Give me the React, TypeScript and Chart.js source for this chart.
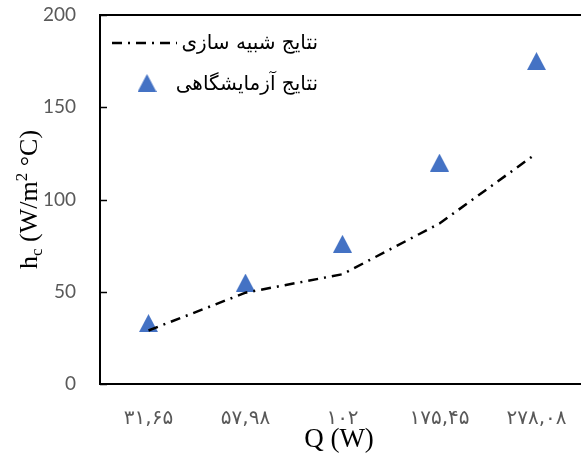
import { useEffect, useRef } from 'react';
import { Chart, registerables } from 'chart.js';

Chart.register(...registerables);

// Heater power (W), written with Persian digits
const powerLabels = ['۳۱,۶۵', '۵۷,۹۸', '۱۰۲', '۱۷۵,۴۵', '۲۷۸,۰۸'];
// Convective heat transfer coefficient h_c (W/m² °C)
const simulatedValues = [29, 49.5, 59.5, 87, 125];
const measuredValues = [33, 55, 76, 120, 175];
const yMin = 0;
const yMax = 200;
const yStep = 50;
const simulatedName = 'نتایج شبیه سازی';
const measuredName = 'نتایج آزمایشگاهی';

const MARKER_BLUE = '#4472C4';
const SERIF = '"Liberation Serif", "Times New Roman", serif';
const ARABIC = '"DejaVu Sans", sans-serif';

function makeTriangle(): HTMLCanvasElement {
  const c = document.createElement('canvas');
  c.width = 19;
  c.height = 18;
  const g = c.getContext('2d')!;
  g.fillStyle = MARKER_BLUE;
  g.beginPath();
  g.moveTo(9.5, 0);
  g.lineTo(19, 18);
  g.lineTo(0, 18);
  g.closePath();
  g.fill();
  return c;
}

export default function App() {
  const canvasRef = useRef<HTMLCanvasElement | null>(null);

  useEffect(() => {
    const canvas = canvasRef.current;
    if (!canvas) return;
    const triangle = makeTriangle();

    const framePlugin = {
      id: 'frame',
      beforeDatasetsDraw(chart: any) {
        const { ctx, chartArea: a, scales } = chart;
        ctx.save();
        ctx.strokeStyle = '#000';
        ctx.lineWidth = 2;
        ctx.strokeRect(a.left, a.top, a.right - a.left, a.bottom - a.top);
        ctx.lineWidth = 1.5;
        scales.y.ticks.forEach((t: any) => {
          const y = Math.round(scales.y.getPixelForValue(t.value)) + 0.5;
          ctx.beginPath();
          ctx.moveTo(a.left, y);
          ctx.lineTo(a.left + 7, y);
          ctx.stroke();
        });
        ctx.restore();
      },
      afterDraw(chart: any) {
        const { ctx, chartArea: a } = chart;
        ctx.save();
        ctx.fillStyle = '#000';

        // x axis title
        ctx.font = `27px ${SERIF}`;
        ctx.textAlign = 'center';
        ctx.textBaseline = 'alphabetic';
        ctx.fillText('Q (W)', 339, 447);

        // y axis title with subscript and superscript
        const parts = [
          { t: 'h', size: 26, dy: 0 },
          { t: 'c', size: 17, dy: 5 },
          { t: ' (W/m', size: 26, dy: 0 },
          { t: '2', size: 17, dy: -10 },
          { t: ' °C)', size: 26, dy: 0 },
        ];
        let total = 0;
        const widths = parts.map((p) => {
          ctx.font = `${p.size}px ${SERIF}`;
          const w = ctx.measureText(p.t).width;
          total += w;
          return w;
        });
        ctx.translate(37, (a.top + a.bottom) / 2);
        ctx.rotate(-Math.PI / 2);
        ctx.textAlign = 'left';
        let x = -total / 2;
        parts.forEach((p, i) => {
          ctx.font = `${p.size}px ${SERIF}`;
          ctx.fillText(p.t, x, p.dy);
          x += widths[i];
        });
        ctx.restore();

        // legend
        ctx.save();
        ctx.strokeStyle = '#000';
        ctx.lineWidth = 2.5;
        ctx.setLineDash([10, 6, 2, 6]);
        ctx.beginPath();
        ctx.moveTo(112, 43);
        ctx.lineTo(177, 43);
        ctx.stroke();
        ctx.setLineDash([]);
        ctx.drawImage(triangle, 147 - 9.5, 83 - 9);
        ctx.fillStyle = '#000';
        ctx.font = `20px ${ARABIC}`;
        ctx.textAlign = 'right';
        ctx.textBaseline = 'middle';
        ctx.fillText(simulatedName, 318, 44);
        ctx.fillText(measuredName, 318, 85);
        ctx.restore();
      },
    };

    const chart = new Chart(canvas, {
      type: 'line',
      data: {
        labels: powerLabels,
        datasets: [
          {
            label: simulatedName,
            data: simulatedValues,
            borderColor: '#000',
            borderWidth: 2.5,
            borderDash: [10, 6, 2, 6],
            pointRadius: 0,
            tension: 0,
            fill: false,
          },
          {
            label: measuredName,
            data: measuredValues,
            showLine: false,
            pointStyle: triangle,
            pointRadius: 10,
            backgroundColor: MARKER_BLUE,
            borderColor: MARKER_BLUE,
          },
        ],
      },
      options: {
        responsive: false,
        animation: false,
        devicePixelRatio: 1,
        layout: { padding: { top: 15, right: 5, left: 0, bottom: 0 } },
        plugins: { legend: { display: false }, tooltip: { enabled: false } },
        scales: {
          x: {
            offset: true,
            grid: { display: false, drawTicks: false },
            border: { display: false },
            ticks: {
              color: '#595959',
              // tall line box pushes the labels down without tick padding
              font: { family: ARABIC, size: 20, lineHeight: 3.5 },
              padding: 0,
              maxRotation: 0,
            },
            afterFit(scale: any) {
              scale.height = 81;
              scale.paddingLeft = 0;
              scale.paddingRight = 0;
            },
          },
          y: {
            min: yMin,
            max: yMax,
            grid: { display: false, drawTicks: false },
            border: { display: false },
            ticks: {
              stepSize: yStep,
              color: '#595959',
              font: { family: 'Lato, "Open Sans", sans-serif', size: 19 },
              padding: 24,
            },
            afterFit(scale: any) {
              scale.width = 100;
              scale.paddingTop = 0;
              scale.paddingBottom = 0;
            },
          },
        },
      },
      plugins: [framePlugin],
    } as any);

    return () => chart.destroy();
  }, []);

  // the plot frame runs past the right edge of the page, so the canvas is
  // wider than the visible box and clipped
  return (
    <div
      style={{
        position: 'fixed',
        left: 0,
        top: 0,
        width: 581,
        height: 465,
        overflow: 'hidden',
        background: '#fff',
      }}
    >
      <canvas ref={canvasRef} width={596} height={465} style={{ display: 'block' }} />
    </div>
  );
}
